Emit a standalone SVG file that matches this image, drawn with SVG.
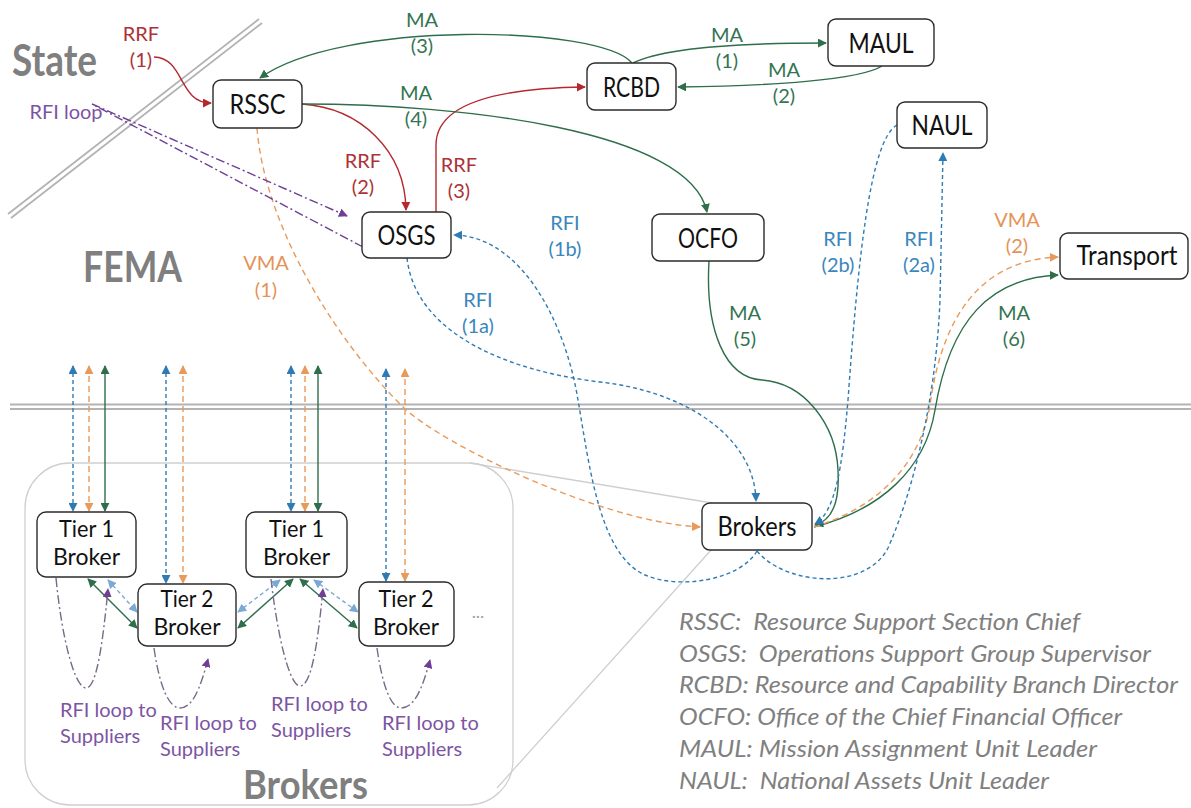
<svg xmlns="http://www.w3.org/2000/svg" width="1191" height="808" viewBox="0 0 1191 808">
<style>
.node rect{fill:#fff;stroke:#2b2b2b;stroke-width:1.4}
text{font-family:Lato,'Liberation Sans',sans-serif}
.nl{font-size:27px;fill:#111;text-anchor:middle}
.tl{font-size:23px;fill:#111;text-anchor:middle}
.lb{font-size:20px;text-anchor:middle}
.pl{font-size:20px;fill:#7d54a3}
.red{fill:#ad3236}.grn{fill:#347452}.blu{fill:#3a86bd}.org{fill:#e49358}.pur{fill:#7d54a3}
.big{font-weight:bold;fill:#7f7f7f}
.leg{font-style:italic;font-size:23.5px;fill:#808080}
.c{fill:none;stroke-width:1.4}
.cr{stroke:#b5282e}.cg{stroke:#2e6e4a}
.cb{stroke:#2e7bb4;stroke-dasharray:4 3}
.co{stroke:#e89a5a;stroke-dasharray:6 4}
.cp{stroke:#7a6a8a;stroke-dasharray:9 3 2 3}
.cpp{stroke:#6f3f96;stroke-dasharray:9 3 2 3}
.cl{stroke:#7aa9d6;stroke-dasharray:4 3}
.sep{stroke:#b3b3b3;stroke-width:1.8;fill:none}
.frame{fill:none;stroke:#cfcfcf;stroke-width:1.3}
</style>
<defs>
<marker id="ar" viewBox="0 0 10 10" refX="9" refY="5" markerWidth="9" markerHeight="9" markerUnits="userSpaceOnUse" orient="auto-start-reverse"><path d="M0,0 L10,5 L0,10 z" fill="#b5282e"/></marker>
<marker id="ag" viewBox="0 0 10 10" refX="9" refY="5" markerWidth="9" markerHeight="9" markerUnits="userSpaceOnUse" orient="auto-start-reverse"><path d="M0,0 L10,5 L0,10 z" fill="#2e6e4a"/></marker>
<marker id="ab" viewBox="0 0 10 10" refX="9" refY="5" markerWidth="9" markerHeight="9" markerUnits="userSpaceOnUse" orient="auto-start-reverse"><path d="M0,0 L10,5 L0,10 z" fill="#2e7bb4"/></marker>
<marker id="ao" viewBox="0 0 10 10" refX="9" refY="5" markerWidth="9" markerHeight="9" markerUnits="userSpaceOnUse" orient="auto-start-reverse"><path d="M0,0 L10,5 L0,10 z" fill="#e89a5a"/></marker>
<marker id="ap" viewBox="0 0 10 10" refX="9" refY="5" markerWidth="9" markerHeight="9" markerUnits="userSpaceOnUse" orient="auto-start-reverse"><path d="M0,0 L10,5 L0,10 z" fill="#6f3f96"/></marker>
<marker id="al" viewBox="0 0 10 10" refX="9" refY="5" markerWidth="9" markerHeight="9" markerUnits="userSpaceOnUse" orient="auto-start-reverse"><path d="M0,0 L10,5 L0,10 z" fill="#7aa9d6"/></marker>
</defs>
<rect width="1191" height="808" fill="#fff"/>

<g id="separators">
<path class="sep" d="M8,214 L259,19 M11,218 L262,23"/>
<path class="sep" d="M10,404.5 H1191 M10,409 H1191"/>
<rect class="frame" x="25" y="463" width="488" height="342" rx="45"/>
<path class="frame" d="M470,463 L712,503 M497,788 L712,549"/>
</g>

<g id="region-labels">
<text class="big" x="12" y="76" font-size="44" textLength="85" lengthAdjust="spacingAndGlyphs">State</text>
<text class="big" x="83" y="282" font-size="42" textLength="99" lengthAdjust="spacingAndGlyphs">FEMA</text>
<text class="big" x="243" y="799" font-size="40" textLength="125" lengthAdjust="spacingAndGlyphs">Brokers</text>
</g>

<g id="connectors">
<path class="c cr" d="M154,57 C185,58 178,103 211,103" marker-end="url(#ar)"/>
<path class="c cr" d="M302,104 C360,108 405,150 406,210" marker-end="url(#ar)"/>
<path class="c cr" d="M436,212 L436,145 C436,100 510,88 585,87" marker-end="url(#ar)"/>
<path class="c cg" d="M632,63 C600,25 340,20 260,78" marker-end="url(#ag)"/>
<path class="c cg" d="M633,63 C665,47 740,43 826,43" marker-end="url(#ag)"/>
<path class="c cg" d="M882,66 C860,80 770,86 678,87" marker-end="url(#ag)"/>
<path class="c cg" d="M302,104 C460,104 690,130 707,212" marker-end="url(#ag)"/>
<path class="c cg" d="M709,261 C705,330 725,378 762,380 C805,383 836,425 838,470 C840,505 830,521 815,525" marker-end="url(#ag)"/>
<path class="c cg" d="M814,527 C880,510 925,470 935,410 C950,320 990,278 1058,275" marker-end="url(#ag)"/>
<path class="c co" d="M257,128 C265,230 340,345 403,407 C440,443 600,522 700,527" marker-end="url(#ao)"/>
<path class="c co" d="M814,527 C878,507 920,465 930,405 C943,310 985,260 1058,257" marker-end="url(#ao)"/>
<path class="c cb" d="M407,258 C415,330 500,370 600,382 C690,392 755,440 756,501" marker-end="url(#ab)"/>
<path class="c cb" d="M757,551 C740,580 680,590 645,575 C600,555 590,470 578,400 C565,320 520,236 454,235" marker-end="url(#ab)"/>
<path class="c cb" d="M757,551 C785,585 865,592 888,548 C905,510 935,420 940,300 L943,153" marker-end="url(#ab)"/>
<path class="c cb" d="M897,125 C870,140 858,260 848,400 C842,470 835,512 815,524" marker-end="url(#ab)"/>
<path class="c cpp" d="M363,247 L92,104 L347,216" marker-end="url(#ap)"/>

<path class="c cb" d="M73,366 V511" marker-start="url(#ab)" marker-end="url(#ab)"/>
<path class="c co" d="M89,366 V511" marker-start="url(#ao)" marker-end="url(#ao)"/>
<path class="c cg" d="M105,366 V511" marker-start="url(#ag)" marker-end="url(#ag)"/>
<path class="c cb" d="M166,366 V583" marker-start="url(#ab)" marker-end="url(#ab)"/>
<path class="c co" d="M183,366 V583" marker-start="url(#ao)" marker-end="url(#ao)"/>
<path class="c cb" d="M291,366 V511" marker-start="url(#ab)" marker-end="url(#ab)"/>
<path class="c co" d="M305,366 V511" marker-start="url(#ao)" marker-end="url(#ao)"/>
<path class="c cg" d="M318,366 V511" marker-start="url(#ag)" marker-end="url(#ag)"/>
<path class="c cb" d="M386,369 V581" marker-start="url(#ab)" marker-end="url(#ab)"/>
<path class="c co" d="M405,369 V581" marker-start="url(#ao)" marker-end="url(#ao)"/>

<path class="c cg" d="M88,579 L137,628" marker-start="url(#ag)" marker-end="url(#ag)"/>
<path class="c cl" d="M108,580 L137,612" marker-start="url(#al)" marker-end="url(#al)"/>
<path class="c cg" d="M293,579 L238,628" marker-start="url(#ag)" marker-end="url(#ag)"/>
<path class="c cl" d="M280,580 L238,612" marker-start="url(#al)" marker-end="url(#al)"/>
<path class="c cg" d="M300,579 L357,628" marker-start="url(#ag)" marker-end="url(#ag)"/>
<path class="c cl" d="M314,580 L358,612" marker-start="url(#al)" marker-end="url(#al)"/>

<path class="c cp" d="M56,578 C62,640 75,688 86,688 C97,688 103,640 108,589" marker-end="url(#ap)"/>
<path class="c cp" d="M154,648 C160,690 170,708 180,708 C192,708 200,690 208,659" marker-end="url(#ap)"/>
<path class="c cp" d="M271,579 C278,640 290,686 300,686 C312,686 318,640 323,589" marker-end="url(#ap)"/>
<path class="c cp" d="M377,648 C383,690 392,708 401,708 C414,708 422,690 430,660" marker-end="url(#ap)"/>
</g>

<g id="edge-labels">
<text class="lb red" x="141" y="41">RRF</text><text class="lb red" x="141" y="67">(1)</text>
<text class="lb grn" x="422" y="27">MA</text><text class="lb grn" x="422" y="53">(3)</text>
<text class="lb grn" x="727" y="42">MA</text><text class="lb grn" x="727" y="68">(1)</text>
<text class="lb grn" x="784" y="77">MA</text><text class="lb grn" x="784" y="103">(2)</text>
<text class="lb grn" x="416" y="100">MA</text><text class="lb grn" x="416" y="126">(4)</text>
<text class="lb red" x="363" y="168">RRF</text><text class="lb red" x="363" y="194">(2)</text>
<text class="lb red" x="459" y="172">RRF</text><text class="lb red" x="459" y="198">(3)</text>
<text class="lb pur" x="66" y="119">RFI loop</text>
<text class="lb org" x="266" y="270">VMA</text><text class="lb org" x="266" y="297">(1)</text>
<text class="lb blu" x="565" y="230">RFI</text><text class="lb blu" x="565" y="256">(1b)</text>
<text class="lb blu" x="478" y="307">RFI</text><text class="lb blu" x="478" y="333">(1a)</text>
<text class="lb blu" x="838" y="246">RFI</text><text class="lb blu" x="838" y="272">(2b)</text>
<text class="lb blu" x="919" y="246">RFI</text><text class="lb blu" x="919" y="272">(2a)</text>
<text class="lb org" x="1017" y="227">VMA</text><text class="lb org" x="1017" y="253">(2)</text>
<text class="lb grn" x="745" y="320">MA</text><text class="lb grn" x="745" y="346">(5)</text>
<text class="lb grn" x="1014" y="320">MA</text><text class="lb grn" x="1014" y="346">(6)</text>
<text class="pl" x="60" y="717">RFI loop to</text><text class="pl" x="60" y="743">Suppliers</text>
<text class="pl" x="160" y="730">RFI loop to</text><text class="pl" x="160" y="756">Suppliers</text>
<text class="pl" x="271" y="711">RFI loop to</text><text class="pl" x="271" y="737">Suppliers</text>
<text class="pl" x="382" y="730">RFI loop to</text><text class="pl" x="382" y="756">Suppliers</text>
<text x="478" y="618" font-size="18" fill="#a0a0a0" text-anchor="middle">...</text>
</g>

<g id="node-rssc" class="node"><rect x="213" y="80" width="89" height="48" rx="8"/><text class="nl" x="257.5" y="114" textLength="56" lengthAdjust="spacingAndGlyphs">RSSC</text></g>
<g id="node-rcbd" class="node"><rect x="587" y="63" width="89" height="47" rx="8"/><text class="nl" x="631.5" y="96.5" textLength="57" lengthAdjust="spacingAndGlyphs">RCBD</text></g>
<g id="node-maul" class="node"><rect x="828" y="19" width="106" height="47" rx="8"/><text class="nl" x="881" y="52.5" textLength="65" lengthAdjust="spacingAndGlyphs">MAUL</text></g>
<g id="node-naul" class="node"><rect x="897" y="102" width="90" height="46" rx="8"/><text class="nl" x="942" y="135" textLength="61" lengthAdjust="spacingAndGlyphs">NAUL</text></g>
<g id="node-osgs" class="node"><rect x="362" y="212" width="89" height="46" rx="8"/><text class="nl" x="406.5" y="245" textLength="58" lengthAdjust="spacingAndGlyphs">OSGS</text></g>
<g id="node-ocfo" class="node"><rect x="652" y="214" width="112" height="47" rx="8"/><text class="nl" x="708" y="247.5" textLength="60" lengthAdjust="spacingAndGlyphs">OCFO</text></g>
<g id="node-transport" class="node"><rect x="1060" y="233" width="128" height="46" rx="8"/><text class="nl" x="1127" y="265" textLength="101" lengthAdjust="spacingAndGlyphs">Transport</text></g>
<g id="node-brokers" class="node"><rect x="702" y="503" width="110" height="47" rx="8"/><text class="nl" x="757" y="535.5" textLength="79" lengthAdjust="spacingAndGlyphs">Brokers</text></g>
<g id="node-tier1-a" class="node"><rect x="37" y="512" width="99" height="65" rx="9"/><text class="tl" x="86.5" y="537" textLength="55" lengthAdjust="spacingAndGlyphs">Tier 1</text><text class="tl" x="86.5" y="565" textLength="67" lengthAdjust="spacingAndGlyphs">Broker</text></g>
<g id="node-tier2-a" class="node"><rect x="138" y="584" width="98" height="62" rx="9"/><text class="tl" x="187" y="607" textLength="53" lengthAdjust="spacingAndGlyphs">Tier 2</text><text class="tl" x="187" y="635" textLength="67" lengthAdjust="spacingAndGlyphs">Broker</text></g>
<g id="node-tier1-b" class="node"><rect x="246" y="512" width="101" height="65" rx="9"/><text class="tl" x="296.5" y="537" textLength="55" lengthAdjust="spacingAndGlyphs">Tier 1</text><text class="tl" x="296.5" y="565" textLength="67" lengthAdjust="spacingAndGlyphs">Broker</text></g>
<g id="node-tier2-b" class="node"><rect x="359" y="582" width="95" height="64" rx="9"/><text class="tl" x="406" y="607" textLength="55" lengthAdjust="spacingAndGlyphs">Tier 2</text><text class="tl" x="406" y="635" textLength="66" lengthAdjust="spacingAndGlyphs">Broker</text></g>

<g id="legend">
<text class="leg" x="679" y="630" xml:space="preserve" textLength="401" lengthAdjust="spacingAndGlyphs">RSSC:  Resource Support Section Chief</text>
<text class="leg" x="679" y="662" xml:space="preserve" textLength="472" lengthAdjust="spacingAndGlyphs">OSGS:  Operations Support Group Supervisor</text>
<text class="leg" x="679" y="693" textLength="499" lengthAdjust="spacingAndGlyphs">RCBD: Resource and Capability Branch Director</text>
<text class="leg" x="679" y="725" textLength="443" lengthAdjust="spacingAndGlyphs">OCFO: Office of the Chief Financial Officer</text>
<text class="leg" x="679" y="757" textLength="418" lengthAdjust="spacingAndGlyphs">MAUL: Mission Assignment Unit Leader</text>
<text class="leg" x="679" y="789" xml:space="preserve" textLength="370" lengthAdjust="spacingAndGlyphs">NAUL:  National Assets Unit Leader</text>
</g>
</svg>
